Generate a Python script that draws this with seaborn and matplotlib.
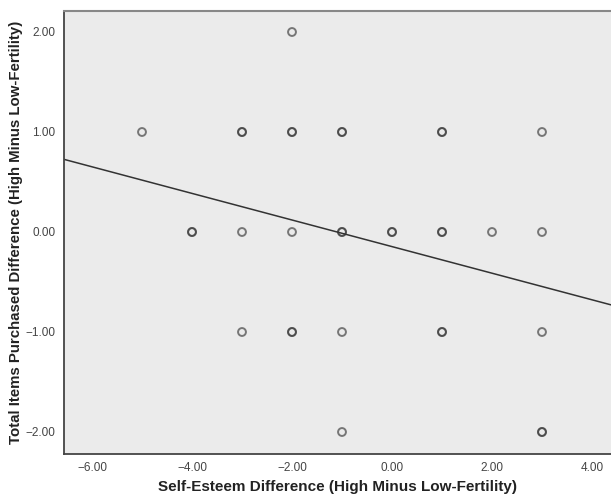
import matplotlib
matplotlib.use("Agg")
import matplotlib.pyplot as plt
import seaborn as sns
import pandas as pd

# self-esteem difference (x) and items purchased difference (y)
# repeated rows = overlapping cases (drawn darker)
esteem = [-5, -3, -3, -2, -2, -1, -1, 1, 1, 3,
          -2,
          -4, -4, -3, -2, -1, -1, 0, 0, 1, 1, 2, 3,
          -3, -2, -2, -1, 1, 1, 3,
          -1, 3, 3]
items = [1, 1, 1, 1, 1, 1, 1, 1, 1, 1,
         2,
         0, 0, 0, 0, 0, 0, 0, 0, 0, 0, 0, 0,
         -1, -1, -1, -1, -1, -1, -1,
         -2, -2, -2]

# fit line
fit_intercept = -0.146
fit_slope = -0.133

x_ticks = [-6, -4, -2, 0, 2, 4]
y_ticks = [-2, -1, 0, 1, 2]

df = pd.DataFrame({"esteem": esteem, "items": items})

sns.set_style("white")
plt.rcParams["font.family"] = ["Liberation Sans", "DejaVu Sans"]

fig = plt.figure(figsize=(6.11, 4.97), dpi=100)
ax = fig.add_axes([64 / 611, 43 / 497, 547 / 611, 443 / 497])
ax.set_facecolor("#ebebeb")

sns.scatterplot(data=df, x="esteem", y="items", ax=ax, s=32,
                facecolor="none", edgecolor=(0.22, 0.22, 0.22, 0.65),
                linewidth=1.4, legend=False)

ax.axline((0, fit_intercept), slope=fit_slope, color="#333333", lw=1.1)

ax.set_xlim(-6.56, 4.38)
ax.set_ylim(-2.22, 2.21)
ax.set_xticks(x_ticks)
ax.set_yticks(y_ticks)
ax.set_xticklabels([f"{v:.2f}".replace("-", "\u2212") for v in x_ticks])
ax.set_yticklabels([f"{v:.2f}".replace("-", "\u2212") for v in y_ticks])
ax.tick_params(axis="both", length=5, width=1.2, color="#333333",
               labelsize=8.5, labelcolor="#444444", direction="out", pad=1)

for side in ["left", "bottom"]:
    ax.spines[side].set_color("#444444")
    ax.spines[side].set_linewidth(1.3)
ax.spines["right"].set_visible(False)
ax.spines["top"].set_color("#888888")
ax.spines["top"].set_linewidth(1.5)

ax.set_xlabel("Self-Esteem Difference (High Minus Low-Fertility)",
              fontsize=11, fontweight="bold", color="#222222", labelpad=4)
ax.set_ylabel("Total Items Purchased Difference (High Minus Low-Fertility)",
              fontsize=10.8, fontweight="bold", color="#222222", labelpad=2)

fig.savefig("out.png", dpi=100)
